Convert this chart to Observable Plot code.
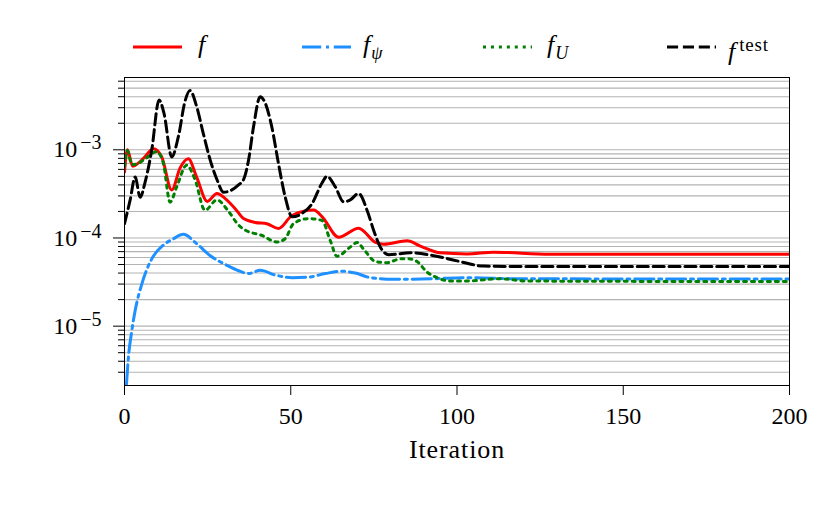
<!DOCTYPE html>
<html><head><meta charset="utf-8">
<script src="https://cdn.jsdelivr.net/npm/d3@7"></script>
<script src="https://cdn.jsdelivr.net/npm/@observablehq/plot@0.6"></script>
<style>
body{margin:0;background:#fff;}
#wrap{position:relative;width:831px;height:513px;font-family:"Liberation Serif",serif;color:#000;}
#legend{position:absolute;left:0;top:0;width:831px;height:70px;}
.sw{position:absolute;top:42px;}
.lab{position:absolute;top:30px;font-size:26px;line-height:30px;font-style:italic;white-space:nowrap;font-family:"Liberation Serif",serif;}
.lab sub{font-size:18px;vertical-align:-6px;margin-left:1px;}
.lab sup{font-size:19px;vertical-align:9px;font-style:normal;margin-left:4px;letter-spacing:0.8px;}
#chart{position:absolute;left:0;top:0;}
</style></head>
<body>
<div id="wrap"><div id="chart"></div><div id="legend"></div></div>
<script>
// ---- data ----
const iterTicks = [0, 50, 100, 150, 200];
const majorY = [1e-5, 1e-4, 1e-3];
const minorY = [3e-6,4e-6,5e-6,6e-6,7e-6,8e-6,9e-6,
                2e-5,3e-5,4e-5,5e-5,6e-5,7e-5,8e-5,9e-5,
                2e-4,3e-4,4e-4,5e-4,6e-4,7e-4,8e-4,9e-4,
                2e-3,3e-3,4e-3,5e-3,6e-3];

const fIter = [0,0.85,2.5,4.2,5.7,8.7,11.2,14.2,16.7,19.2,21.7,24.9,27.8,30.3,33.3,35.8,39.3,42.8,46.3,50.4,56.9,59.4,64.4,70.4,75.5,78,85,89,95,103,111,128,200];
const fVal  = [5.6e-4,1.0e-3,6.5e-4,7.1e-4,8.0e-4,1.03e-3,8.3e-4,3.5e-4,6.2e-4,7.9e-4,4.9e-4,2.6e-4,3.2e-4,2.8e-4,2.15e-4,1.66e-4,1.5e-4,1.45e-4,1.28e-4,1.8e-4,2.07e-4,1.75e-4,1.02e-4,1.29e-4,8.9e-5,8.5e-5,9.3e-5,8.1e-5,6.8e-5,6.6e-5,6.9e-5,6.55e-5,6.55e-5];

const fpsiIter = [0.6,1.1,2.2,3.2,5.2,8.2,11.7,14.7,17.7,21.7,25.8,30.8,34.3,37.3,40.8,45.3,50.4,55.4,60.4,65.4,69.4,74,81,93,103,118,200];
const fpsiVal  = [2.2e-6,4.1e-6,8.9e-6,1.5e-5,3.0e-5,5.8e-5,8.3e-5,9.8e-5,1.1e-4,8.6e-5,6.3e-5,4.9e-5,4.25e-5,3.95e-5,4.3e-5,3.8e-5,3.55e-5,3.6e-5,3.95e-5,4.2e-5,4.0e-5,3.55e-5,3.4e-5,3.45e-5,3.55e-5,3.45e-5,3.42e-5];

const fUIter = [0,0.85,2.2,3.7,6.2,9.7,11.7,13.7,15.7,18.7,21.2,24.2,27.8,31.3,34.3,36.3,41.3,45.8,48.3,50.8,55.4,59.4,61.9,63.9,67.9,70,72,75.5,79,83,85.5,88,91,94,98,103,113,121,200];
const fUVal  = [6.5e-4,9.8e-4,6.8e-4,6.9e-4,7.9e-4,9.5e-4,7.0e-4,2.55e-4,3.8e-4,6.7e-4,4.6e-4,2.06e-4,2.7e-4,2.0e-4,1.4e-4,1.23e-4,1.07e-4,9.0e-5,9.8e-5,1.45e-4,1.66e-4,1.58e-4,9.3e-5,6.2e-5,7.9e-5,8.9e-5,7.4e-5,5.4e-5,5.25e-5,5.8e-5,5.8e-5,5.4e-5,4.1e-5,3.55e-5,3.25e-5,3.25e-5,3.45e-5,3.25e-5,3.2e-5];

const ftestIter = [0,1.7,3.2,4.7,6.2,8.2,10.4,11.9,14.2,16.2,18.2,19.7,21.7,23.7,25.8,27.8,29.8,34.3,35.8,37.3,38.8,40.8,42.3,44.3,46.3,48.3,50.4,53.4,56.4,59.4,60.9,63.4,65.9,67.9,70.4,73,75,77,79.5,86,93,100,108,120,200];
const ftestVal  = [1.45e-4,2.7e-4,4.9e-4,2.9e-4,4.3e-4,1.0e-3,3.67e-3,2.57e-3,8.3e-4,1.41e-3,3.55e-3,4.7e-3,3.1e-3,1.53e-3,7.6e-4,4.6e-4,3.3e-4,4.0e-4,4.6e-4,7.6e-4,1.82e-3,4.0e-3,3.4e-3,1.82e-3,7.0e-4,2.95e-4,1.74e-4,1.9e-4,2.45e-4,4.2e-4,5.0e-4,3.8e-4,2.57e-4,2.7e-4,3.2e-4,2.04e-4,1.2e-4,7.8e-5,6.45e-5,6.8e-5,6.3e-5,5.5e-5,4.8e-5,4.75e-5,4.75e-5];

const seriesNames  = ["f", "fpsi", "fU", "ftest"];
const seriesColors = ["#ff0000", "#1e90ff", "#008000", "#000000"];
const seriesDash   = [null, "19.2,4.8,3,4.8", "3,4.95", "11.1,4.8"];
const seriesBase = ["f","f","f","f"];
const seriesSub  = ["","ψ","U",""];
const seriesSup  = ["","","","test"];

const seriesIter = [fIter, fpsiIter, fUIter, ftestIter];
const seriesVal  = [fVal, fpsiVal, fUVal, ftestVal];

const tables = seriesIter.map((xs, i) => xs.map((x, j) => ({iter: x, val: seriesVal[i][j]})));

const lineMarks = tables.map((t, i) => Plot.line(t, {
  x: "iter", y: "val", stroke: seriesColors[i], strokeWidth: 3,
  strokeDasharray: seriesDash[i] || undefined, curve: "monotone-x", clip: true
}));

const FONT = "Liberation Serif, serif";
const chart = Plot.plot({
  width: 831, height: 513,
  marginLeft: 124, marginRight: 42, marginTop: 77, marginBottom: 128,
  style: {fontFamily: FONT, fontSize: "24px", background: "white", color: "black"},
  x: {domain: [0, 200], axis: null},
  y: {type: "log", domain: [Math.pow(10, -5.673), Math.pow(10, -2.18)], axis: null},
  marks: [
    Plot.gridY(majorY.concat(minorY), {stroke: "#b3b3b3", strokeOpacity: 1, strokeWidth: 1.1}),
    ...lineMarks,
    Plot.axisY(minorY, {tickSize: 6, tickFormat: () => "", label: null}),
    Plot.axisY(majorY, {tickSize: 11, tickPadding: 12, label: null, fontSize: 24, fontFamily: FONT,
      tickFormat: d => "\u2212" + Math.round(-Math.log10(d))}),
    Plot.axisX(iterTicks, {tickSize: 10, tickPadding: 11, label: null, fontSize: 24, fontFamily: FONT}),
    Plot.text(["Iteration"], {frameAnchor: "bottom", dy: 64, fontSize: 26, fontFamily: FONT, lineAnchor: "middle"}),
    Plot.frame({stroke: "black", strokeWidth: 1})
  ]
});
document.getElementById("chart").appendChild(chart);

// superscript exponents on y tick labels
chart.querySelectorAll('g[aria-label="y-axis tick label"] text').forEach(t => {
  const v = t.textContent;
  if (!v) return;
  t.textContent = "10";
  const ts = document.createElementNS("http://www.w3.org/2000/svg", "tspan");
  ts.setAttribute("dy", "-0.4em");
  ts.setAttribute("dx", "3");
  ts.setAttribute("font-size", "20px");
  ts.textContent = v;
  t.appendChild(ts);
});
chart.querySelectorAll('g[aria-label="text"] text').forEach(t => t.setAttribute("letter-spacing", "0.9"));

// legend
const legend = document.getElementById("legend");
const swX = [133, 302, 483, 667];
const labX = [198, 363, 547, 728];
seriesNames.forEach((n, i) => {
  const s = document.createElementNS("http://www.w3.org/2000/svg", "svg");
  s.setAttribute("width", 49); s.setAttribute("height", 10);
  s.setAttribute("class", "sw");
  s.style.left = swX[i] + "px";
  const l = document.createElementNS("http://www.w3.org/2000/svg", "line");
  l.setAttribute("x1", 0); l.setAttribute("x2", 49); l.setAttribute("y1", 5); l.setAttribute("y2", 5);
  l.setAttribute("stroke", seriesColors[i]); l.setAttribute("stroke-width", 3);
  if (seriesDash[i]) l.setAttribute("stroke-dasharray", seriesDash[i]);
  s.appendChild(l);
  legend.appendChild(s);
  const lab = document.createElement("div");
  lab.className = "lab";
  lab.style.left = labX[i] + "px";
  lab.appendChild(document.createTextNode(seriesBase[i]));
  if (seriesSub[i]) { const e = document.createElement("sub"); e.textContent = seriesSub[i]; lab.appendChild(e); }
  if (seriesSup[i]) { const e = document.createElement("sup"); e.textContent = seriesSup[i]; lab.appendChild(e); }
  legend.appendChild(lab);
});
</script>
</body></html>
